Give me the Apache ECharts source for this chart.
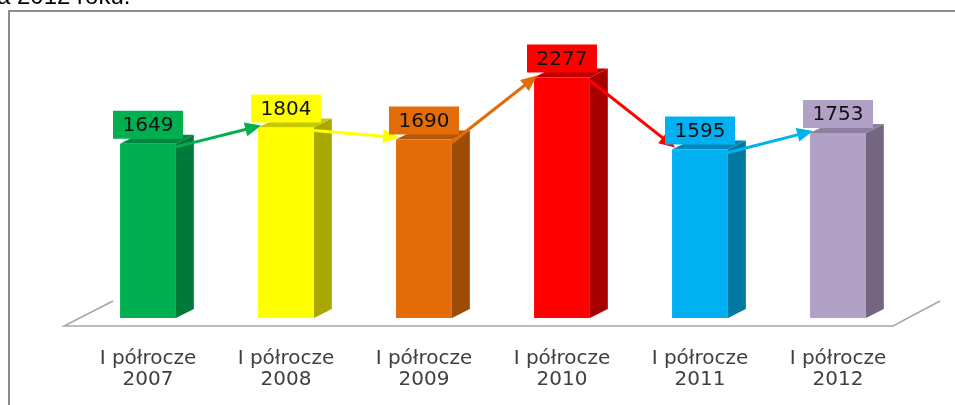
<!DOCTYPE html>
<html>
<head>
<meta charset="utf-8">
<script src="https://cdn.jsdelivr.net/npm/echarts@6/dist/echarts.min.js"></script>
<style>html,body{margin:0;padding:0;background:#fff;}#c{width:955px;height:405px;}</style>
</head>
<body>
<div id="c"></div>
<script>
const categories = ['I półrocze\n2007', 'I półrocze\n2008', 'I półrocze\n2009', 'I półrocze\n2010', 'I półrocze\n2011', 'I półrocze\n2012'];
const values = [1649, 1804, 1690, 2277, 1595, 1753];
const frontColors = ['#00B050', '#FFFF00', '#E36C09', '#FF0000', '#00B0F0', '#B2A1C7'];
const sideColors = ['#007A38', '#A8A800', '#9E4B06', '#A80000', '#00789F', '#74667F'];
const topColors = ['#00873F', '#C8C800', '#B35708', '#C00000', '#0088B8', '#8E7FA0'];
const titleText = 'za 2012 roku.';

const barData = values.map((v, i) => [i, v]);
const arrowData = values.slice(0, -1).map((v, i) => [i, v, values[i + 1]]);

const chart = echarts.init(document.getElementById('c'), null, {renderer: 'canvas'});

function geom(api, i, v) {
  const top = api.coord([i, v]);
  const base = api.coord([i, 0]);
  const w = api.size([1, 0])[0] * 0.405;
  return {top, base, w, dx: w * 0.32, dy: 9};
}

function renderFloor(params, api) {
  const cs = params.coordSys;
  const x0 = cs.x, x1 = cs.x + cs.width, b = cs.y + cs.height;
  return {
    type: 'polyline',
    shape: {points: [[x0 + 34, b - 17], [x0 - 15, b + 8], [x1 - 14, b + 8], [x1 + 33, b - 17]]},
    style: {stroke: '#a6a6a6', lineWidth: 1.5, fill: null}
  };
}

function renderBar(params, api) {
  const i = api.value(0), v = api.value(1);
  const g = geom(api, i, v);
  const xl = g.top[0] - g.w / 2, xr = g.top[0] + g.w / 2;
  const yt = g.top[1], yb = g.base[1];
  return {
    type: 'group',
    children: [
      {type: 'polygon', shape: {points: [[xr, yt], [xr + g.dx, yt - g.dy], [xr + g.dx, yb - g.dy], [xr, yb]]},
       style: {fill: sideColors[i]}},
      {type: 'polygon', shape: {points: [[xl, yt], [xl + g.dx, yt - g.dy], [xr + g.dx, yt - g.dy], [xr, yt]]},
       style: {fill: topColors[i]}},
      {type: 'rect', shape: {x: xl, y: yt, width: g.w, height: yb - yt}, style: {fill: frontColors[i]}}
    ]
  };
}

function renderArrow(params, api) {
  const i = api.value(0), v = api.value(1), vn = api.value(2);
  const g0 = geom(api, i, v), g1 = geom(api, i + 1, vn);
  const s = [g0.top[0] + g0.w / 2, g0.top[1] + 3];
  const e = [g1.top[0] - g1.w / 2 + 3, g1.top[1] - 2];
  const dx = e[0] - s[0], dy = e[1] - s[1];
  const len = Math.sqrt(dx * dx + dy * dy);
  const ux = dx / len, uy = dy / len, nx = -uy, ny = ux;
  const hl = 16, hw = 7;
  const bx = e[0] - ux * hl, by = e[1] - uy * hl;
  const col = frontColors[i];
  return {
    type: 'group',
    children: [
      {type: 'line', shape: {x1: s[0], y1: s[1], x2: e[0] - ux * 10, y2: e[1] - uy * 10},
       style: {stroke: col, lineWidth: 3}},
      {type: 'polygon', shape: {points: [[e[0], e[1]], [bx + nx * hw, by + ny * hw], [bx - nx * hw, by - ny * hw]]},
       style: {fill: col}}
    ]
  };
}

function renderLabel(params, api) {
  const i = api.value(0), v = api.value(1);
  const g = geom(api, i, v);
  const bw = 70, bh = 28;
  const cx = g.top[0];
  const by = g.top[1] - 5 - bh;
  return {
    type: 'group',
    children: [
      {type: 'rect', shape: {x: cx - bw / 2, y: by, width: bw, height: bh}, style: {fill: frontColors[i]}},
      {type: 'text', style: {text: String(v), x: cx, y: by + bh / 2 + 1, align: 'center', verticalAlign: 'middle',
        font: '20px "DejaVu Sans"', fill: '#111'}}
    ]
  };
}

chart.setOption({
  animation: false,
  backgroundColor: '#ffffff',
  graphic: [
    {type: 'rect', shape: {x: 9, y: 11, width: 1000, height: 500}, style: {fill: null, stroke: '#8c8c8c', lineWidth: 2}, z: 0},
    {type: 'text', style: {text: titleText, x: -15, y: -3, verticalAlign: 'middle', font: '24px "Liberation Sans"', fill: '#000'}}
  ],
  grid: {left: 79, right: 48, top: 54, bottom: 87},
  xAxis: {
    type: 'category', data: categories,
    axisLine: {show: false}, axisTick: {show: false},
    axisLabel: {margin: 30, fontSize: 20, lineHeight: 21, color: '#404040', fontFamily: 'DejaVu Sans', interval: 0}
  },
  yAxis: {type: 'value', min: 0, max: 2500, show: false, splitLine: {show: false}},
  series: [
    {type: 'custom', renderItem: renderFloor, data: [[0, 0]], encode: {x: 0, y: 1}, z: 1, silent: true},
    {type: 'custom', renderItem: renderBar, data: barData, encode: {x: 0, y: 1}, z: 2},
    {type: 'custom', renderItem: renderArrow, data: arrowData, encode: {x: 0, y: 1}, z: 3},
    {type: 'custom', renderItem: renderLabel, data: barData, encode: {x: 0, y: 1}, z: 4}
  ]
});
</script>
</body>
</html>
